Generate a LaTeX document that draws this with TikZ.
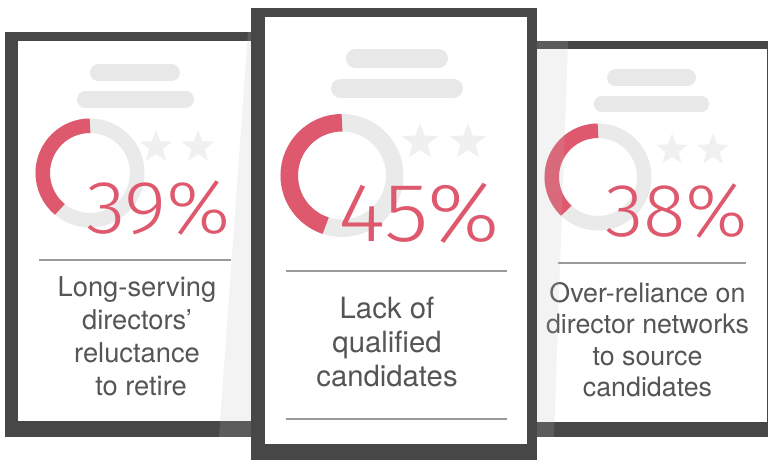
\documentclass[tikz,border=0pt]{standalone}
\usepackage{fontspec}
\setmainfont{TeX Gyre Heros}
\newfontfamily\pctfont{Fira Sans Light}
\definecolor{frame}{HTML}{474747}
\definecolor{accent}{RGB}{222,88,110}
\definecolor{ring}{HTML}{EAEAEA}
\definecolor{bar}{HTML}{E8E8E8}
\definecolor{starc}{HTML}{F0F0F0}
\definecolor{txt}{HTML}{555555}
\definecolor{rulec}{HTML}{9A9A9A}
\definecolor{sheen}{RGB}{190,190,190}
\tikzset{
  pill/.style={draw=bar, line cap=round},
  ringbg/.style={draw=ring},
  ringfg/.style={draw=accent},
  pct/.style={text=accent, inner sep=0pt, anchor=base west},
  lbl/.style={text=txt, inner sep=0pt, anchor=base},
  sep/.style={draw=rulec, line width=1.2pt},
  sheenfill/.style={fill=sheen, fill opacity=0.18},
}
\newcommand\drawstar[3]{\fill[starc] (#1,#2) +(90:#3)
  \foreach \k in {1,...,9}{ -- +({90+36*\k}:{ifthenelse(isodd(\k),0.42*#3,#3)}) } -- cycle;}
\newcommand\donut[5]{%
  \draw[ringbg, line width=#4] (#1,#2) circle[radius=#3];
  \draw[ringfg, line width=#4] (#1,#2) ++(90:#3) arc[start angle=90, delta angle={3.6*#5}, radius=#3];}
\begin{document}
\begin{tikzpicture}[x=1pt,y=1pt]
\useasboundingbox (0,0) rectangle (768,460);
% ---------- left card
\fill[frame] (5,23) rectangle (258,428);
\fill[white] (18,39) rectangle (258,419);
\draw[pill, line width=17] (98.5,387.5) -- (171.5,387.5);
\draw[pill, line width=17] (85.5,360.5) -- (185.5,360.5);
\donut{90}{287}{47.25}{14.5}{39}
\drawstar{156}{313}{17}
\drawstar{198}{313}{17}
\node[pct, xscale=1.08, font=\pctfont\fontsize{75}{75}\selectfont] (p1) at (86,226) {39\%};
\draw[sep] (39,200) -- (231,200);
\node[lbl, font=\fontsize{27.3}{33}\selectfont] (l1a) at (137,163) {Long-serving};
\node[lbl, font=\fontsize{27.3}{33}\selectfont] (l1b) at (137,130) {directors’};
\node[lbl, font=\fontsize{27.3}{33}\selectfont] (l1c) at (137,97) {reluctance};
\node[lbl, font=\fontsize{27.3}{33}\selectfont] (l1d) at (141,64) {to retire};
\fill[sheenfill] (248,428) -- (251,428) -- (251,23) -- (219,23) -- cycle;
% ---------- right card
\fill[frame] (527,23) rectangle (770,419);
\fill[white] (537,38) rectangle (767,411);
\draw[pill, line width=17] (615.5,382) -- (687.5,382);
\draw[pill, line width=16.5] (602,356) -- (701,356);
\donut{598}{283}{46.25}{14.5}{38}
\drawstar{672}{310}{16.5}
\drawstar{713}{310}{16.5}
\node[pct, xscale=1.05, font=\pctfont\fontsize{75}{75}\selectfont] (p3) at (605,223) {38\%};
\draw[sep] (558,197) -- (746,197);
\node[lbl, font=\fontsize{26.8}{31}\selectfont] (l3a) at (647.5,157) {Over-reliance on};
\node[lbl, font=\fontsize{26.8}{31}\selectfont] (l3b) at (647.5,126) {director networks};
\node[lbl, font=\fontsize{26.8}{31}\selectfont] (l3c) at (647.5,94) {to source};
\node[lbl, font=\fontsize{26.8}{31}\selectfont] (l3d) at (647.5,63) {candidates};
\fill[sheenfill] (537,419) -- (568,419) -- (554,23) -- (537,23) -- cycle;
% ---------- middle card
\fill[frame] (251,-2) rectangle (537,452);
\fill[white] (265,16) rectangle (527,443);
\draw[pill, line width=19] (355.5,401.5) -- (438.5,401.5);
\draw[pill, line width=19] (340.5,371.5) -- (453.5,371.5);
\donut{342}{284.5}{52.75}{17.5}{45}
\drawstar{420}{318}{19}
\drawstar{468}{318}{19}
\node[pct, xscale=1.1, font=\pctfont\fontsize{83}{83}\selectfont] (p2) at (338,218) {45\%};
\draw[sep] (286,189) -- (507,189);
\draw[sep] (286,41) -- (507,41);
\node[lbl, font=\fontsize{29.3}{34}\selectfont] (l2a) at (387,141) {Lack of};
\node[lbl, font=\fontsize{29.3}{34}\selectfont] (l2b) at (387,107) {qualified};
\node[lbl, font=\fontsize{29.3}{34}\selectfont] (l2c) at (387,73) {candidates};
\end{tikzpicture}
\end{document}
